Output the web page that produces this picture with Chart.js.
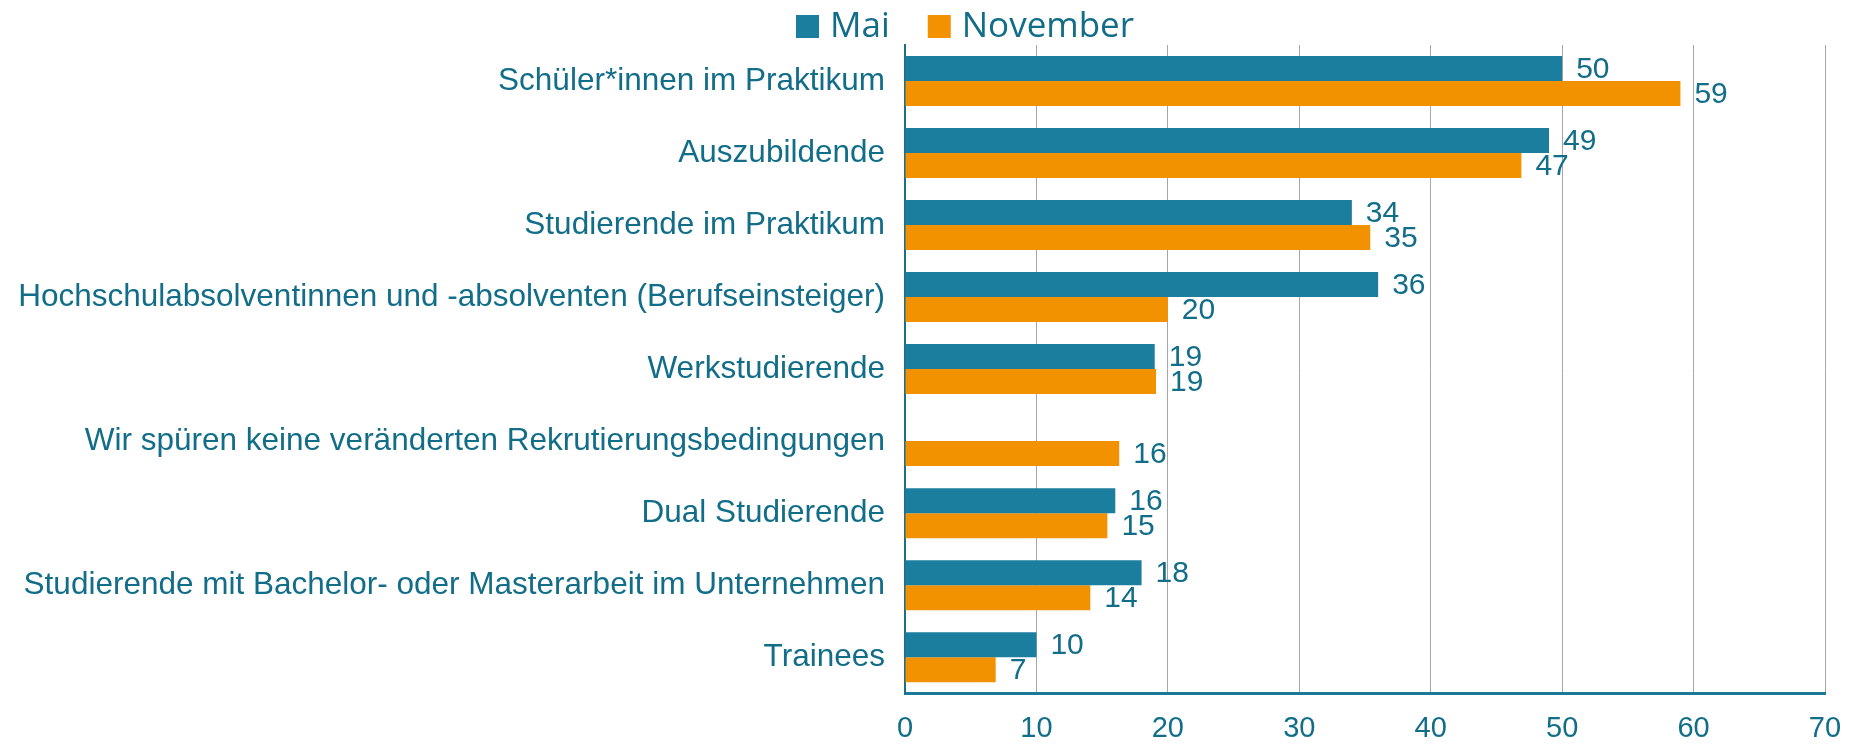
<!DOCTYPE html>
<html>
<head>
<meta charset="utf-8">
<script src="https://cdn.jsdelivr.net/npm/chart.js@4.4.1/dist/chart.umd.min.js"></script>
<style>
  html, body { margin: 0; padding: 0; background: #ffffff; }
  #wrap { width: 1850px; height: 746px; position: relative; }
</style>
</head>
<body>
<div id="wrap"><canvas id="rekrutierungChart"></canvas></div>
<script>
const kategorien = [
    'Schüler*innen im Praktikum',
    'Auszubildende',
    'Studierende im Praktikum',
    'Hochschulabsolventinnen und -absolventen (Berufseinsteiger)',
    'Werkstudierende',
    'Wir spüren keine veränderten Rekrutierungsbedingungen',
    'Dual Studierende',
    'Studierende mit Bachelor- oder Masterarbeit im Unternehmen',
    'Trainees'
];
const werteMai = [50, 49, 34, 36, 19, null, 16, 18, 10];
const werteNovember = [59, 46.9, 35.4, 20, 19.1, 16.3, 15.4, 14.1, 6.9];
const xTicks = [0, 10, 20, 30, 40, 50, 60, 70];

const farbeMai = '#1b7e9f';
const farbeNovember = '#f39200';
const textFarbe = '#116d88';

// Legende oben, wie im Original etwas rechts der Mitte
const legendePlugin = {
    id: 'legendeOben',
    afterDraw(chart) {
        const ctx = chart.ctx;
        ctx.save();
        ctx.font = '35px "Open Sans"';
        ctx.textBaseline = 'alphabetic';
        ctx.textAlign = 'left';
        let x = 796;
        chart.data.datasets.forEach(ds => {
            ctx.fillStyle = ds.backgroundColor;
            ctx.fillRect(x, 15, 23, 23);
            ctx.fillStyle = textFarbe;
            ctx.fillText(ds.label, x + 34, 37);
            x += 34 + ctx.measureText(ds.label).width + 38;
        });
        ctx.restore();
    }
};

// Werte rechts neben den Balken
const wertePlugin = {
    id: 'balkenWerte',
    afterDatasetsDraw(chart) {
        const ctx = chart.ctx;
        ctx.save();
        ctx.font = '30px "Liberation Sans", Arial, sans-serif';
        ctx.fillStyle = textFarbe;
        ctx.textAlign = 'left';
        ctx.textBaseline = 'middle';
        chart.data.datasets.forEach((ds, i) => {
            const meta = chart.getDatasetMeta(i);
            meta.data.forEach((bar, j) => {
                const v = ds.data[j];
                if (v === null || v === undefined) return;
                ctx.fillText(String(Math.round(v)), bar.x + 14, bar.y + 1);
            });
        });
        ctx.restore();
    }
};

const ctx = document.getElementById('rekrutierungChart').getContext('2d');
new Chart(ctx, {
    type: 'bar',
    data: {
        labels: kategorien,
        datasets: [
            {
                label: 'Mai',
                data: werteMai,
                backgroundColor: farbeMai,
                categoryPercentage: 0.694,
                barPercentage: 1
            },
            {
                label: 'November',
                data: werteNovember,
                backgroundColor: farbeNovember,
                categoryPercentage: 0.694,
                barPercentage: 1
            }
        ]
    },
    options: {
        indexAxis: 'y',
        responsive: true,
        maintainAspectRatio: false,
        animation: false,
        layout: {
            padding: { top: 45, right: 0, left: 0, bottom: -18 }
        },
        plugins: {
            legend: { display: false },
            tooltip: { enabled: false }
        },
        scales: {
            x: {
                min: 0,
                max: 70,
                afterBuildTicks: scale => {
                    scale.ticks = xTicks.map(v => ({ value: v }));
                },
                afterFit: scale => {
                    scale.paddingRight = 25;
                },
                ticks: {
                    color: textFarbe,
                    padding: 18,
                    font: { family: '"Liberation Sans", Arial, sans-serif', size: 29 }
                },
                grid: {
                    color: '#a6a6a6',
                    lineWidth: 1,
                    drawTicks: false
                },
                border: {
                    color: '#1b7a99',
                    width: 3
                }
            },
            y: {
                afterFit: scale => {
                    scale.width = 905;
                },
                ticks: {
                    color: textFarbe,
                    padding: 12,
                    font: { family: '"Liberation Sans", Arial, sans-serif', size: 31.5 }
                },
                grid: {
                    display: false
                },
                border: {
                    color: '#1b6f8a',
                    width: 2
                }
            }
        }
    },
    plugins: [legendePlugin, wertePlugin]
});
</script>
</body>
</html>
